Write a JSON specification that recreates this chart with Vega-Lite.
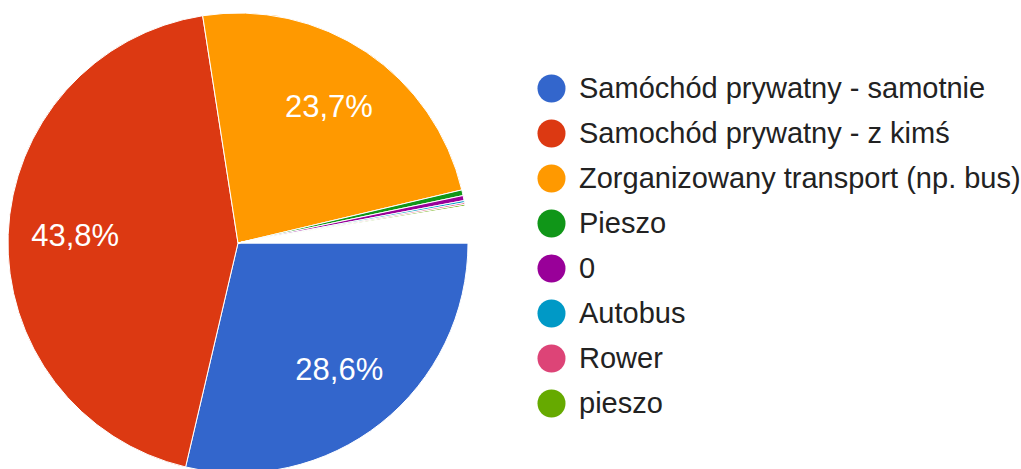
{
  "$schema": "https://vega.github.io/schema/vega-lite/v6.json",
  "autosize": {"type": "none"},
  "width": 476,
  "height": 452,
  "padding": {"left": 0, "top": 17, "right": 545, "bottom": 0},
  "background": "white",
  "config": {"view": {"stroke": null}, "font": "Liberation Sans"},
  "data": {
    "values": [
      {"cat": "Samóchód prywatny - samotnie", "pct": 28.6, "rank": 1, "label": "28,6%"},
      {"cat": "Samochód prywatny - z kimś", "pct": 43.8, "rank": 2, "label": "43,8%"},
      {"cat": "Zorganizowany transport (np. bus)", "pct": 23.7, "rank": 3, "label": "23,7%"},
      {"cat": "Pieszo", "pct": 0.4, "rank": 4, "label": ""},
      {"cat": "0", "pct": 0.35, "rank": 5, "label": ""},
      {"cat": "Autobus", "pct": 0.15, "rank": 6, "label": ""},
      {"cat": "Rower", "pct": 0.12, "rank": 7, "label": ""},
      {"cat": "pieszo", "pct": 0.12, "rank": 8, "label": ""},
      {"cat": " ", "pct": 2.56, "rank": 9, "label": ""}
    ]
  },
  "encoding": {
    "theta": {"field": "pct", "type": "quantitative", "stack": true, "scale": {"range": [1.5708, 7.854]}},
    "order": {"field": "rank", "type": "quantitative"}
  },
  "layer": [
    {
      "mark": {"type": "arc", "outerRadius": 230, "stroke": "white", "strokeWidth": 1},
      "encoding": {
        "color": {
          "field": "cat",
          "type": "nominal",
          "scale": {
            "domain": ["Samóchód prywatny - samotnie", "Samochód prywatny - z kimś", "Zorganizowany transport (np. bus)", "Pieszo", "0", "Autobus", "Rower", "pieszo", " "],
            "range": ["#3366cc", "#dc3912", "#ff9900", "#109618", "#990099", "#0099c6", "#dd4477", "#66aa00", "#ffffff"]
          },
          "legend": {
            "title": null,
            "values": ["Samóchód prywatny - samotnie", "Samochód prywatny - z kimś", "Zorganizowany transport (np. bus)", "Pieszo", "0", "Autobus", "Rower", "pieszo"],
            "orient": "none",
            "legendX": 537,
            "legendY": 57,
            "padding": 0,
            "symbolType": "circle",
            "symbolSize": 784,
            "symbolStrokeWidth": 0,
            "labelFontSize": 29,
            "labelFont": "Liberation Sans",
            "labelColor": "#222222",
            "labelOffset": 13,
            "labelLimit": 600,
            "rowPadding": 15
          }
        }
      }
    },
    {
      "mark": {"type": "text", "radius": 163, "fill": "white", "fontSize": 31, "font": "Liberation Sans", "baseline": "middle", "align": "center"},
      "encoding": {
        "detail": {"field": "cat", "type": "nominal"},
        "text": {"field": "label", "type": "nominal"}
      }
    }
  ]
}
